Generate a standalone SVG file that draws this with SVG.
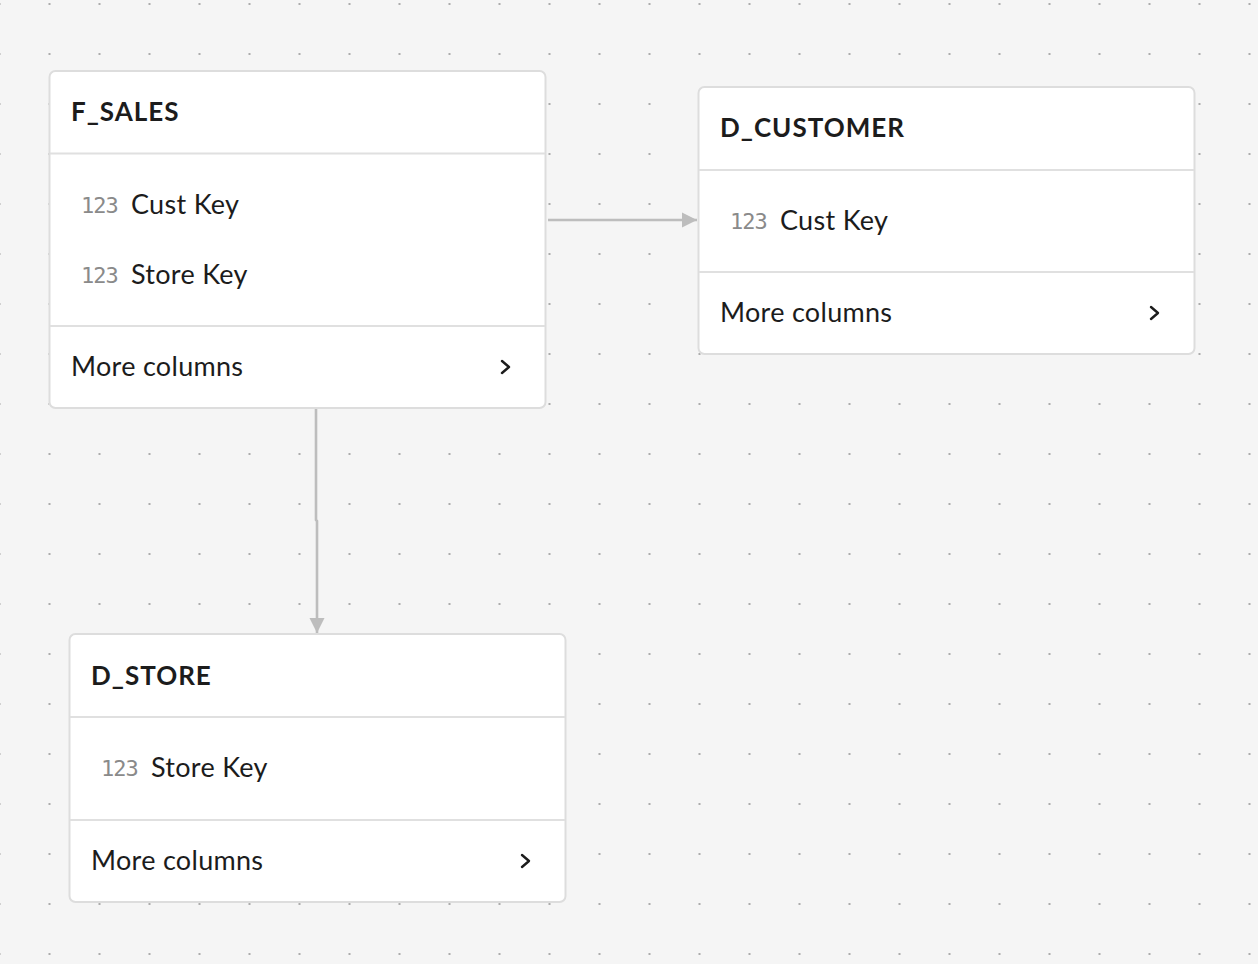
<svg xmlns="http://www.w3.org/2000/svg" width="1258" height="964" viewBox="0 0 1258 964">
<defs>
<pattern id="dots" x="-0.5" y="4" width="50" height="50" patternUnits="userSpaceOnUse">
<circle cx="0" cy="0" r="1.1" fill="#9a9a9a"/><circle cx="50" cy="0" r="1.1" fill="#9a9a9a"/><circle cx="0" cy="50" r="1.1" fill="#9a9a9a"/><circle cx="50" cy="50" r="1.1" fill="#9a9a9a"/>
</pattern>
<marker id="arr" viewBox="0 0 10 10" refX="10" refY="5" markerWidth="15" markerHeight="18" markerUnits="userSpaceOnUse" orient="auto">
<path d="M0,0 L10,5 L0,10 Z" fill="#bdbdbd"/>
</marker>
<style>
.card{fill:#fff;stroke:#dddddd;stroke-width:2}
.div{stroke:#e0e0e0;stroke-width:2}
.title{font-family:Lato,"Noto Sans",sans-serif;font-weight:700;font-size:26px;letter-spacing:1px;fill:#1c1c1c}
.col{font-family:Lato,"Noto Sans",sans-serif;font-size:27px;letter-spacing:0.3px;fill:#1c1c1c}
.ico{font-family:"DejaVu Sans Mono","Liberation Mono",monospace;font-size:22px;fill:#8a8a8a;letter-spacing:-1px}
.chev{fill:none;stroke:#1c1c1c;stroke-width:2.4;stroke-linecap:round;stroke-linejoin:round}
.edge{fill:none;stroke:#bdbdbd;stroke-width:2.6}
</style>
</defs>
<rect x="0" y="0" width="1258" height="964" fill="#f5f5f5"/>
<rect x="0" y="0" width="1258" height="964" fill="url(#dots)"/>

<g id="connectors">
<path class="edge" d="M548,220 L697,220" marker-end="url(#arr)"/>
<path class="edge" d="M316,409 L316,520 L317,521 L317,633" marker-end="url(#arr)"/>
</g>

<g id="F_SALES">
<rect class="card" x="49.5" y="71" width="496" height="337" rx="6"/>
<line class="div" x1="50" y1="153.5" x2="545" y2="153.5"/>
<line class="div" x1="50" y1="326" x2="545" y2="326"/>
<text class="title" x="71" y="121">F_SALES</text>
<text class="ico" x="81" y="213">123</text>
<text class="col" x="131" y="214">Cust Key</text>
<text class="ico" x="81" y="283">123</text>
<text class="col" x="131" y="284">Store Key</text>
<text class="col" x="71" y="376">More columns</text>
<path class="chev" d="M502,361 L509,367 L502,373"/>
</g>

<g id="D_CUSTOMER">
<rect class="card" x="698.5" y="87" width="496" height="267" rx="6"/>
<line class="div" x1="699" y1="170" x2="1194" y2="170"/>
<line class="div" x1="699" y1="272" x2="1194" y2="272"/>
<text class="title" x="720" y="137">D_CUSTOMER</text>
<text class="ico" x="730" y="229">123</text>
<text class="col" x="780" y="230">Cust Key</text>
<text class="col" x="720" y="322">More columns</text>
<path class="chev" d="M1151,307 L1158,313 L1151,319"/>
</g>

<g id="D_STORE">
<rect class="card" x="69.5" y="634" width="496" height="268" rx="6"/>
<line class="div" x1="70" y1="717" x2="565" y2="717"/>
<line class="div" x1="70" y1="820" x2="565" y2="820"/>
<text class="title" x="91" y="685">D_STORE</text>
<text class="ico" x="101" y="776">123</text>
<text class="col" x="151" y="777">Store Key</text>
<text class="col" x="91" y="870">More columns</text>
<path class="chev" d="M522,855 L529,861 L522,867"/>
</g>
</svg>
